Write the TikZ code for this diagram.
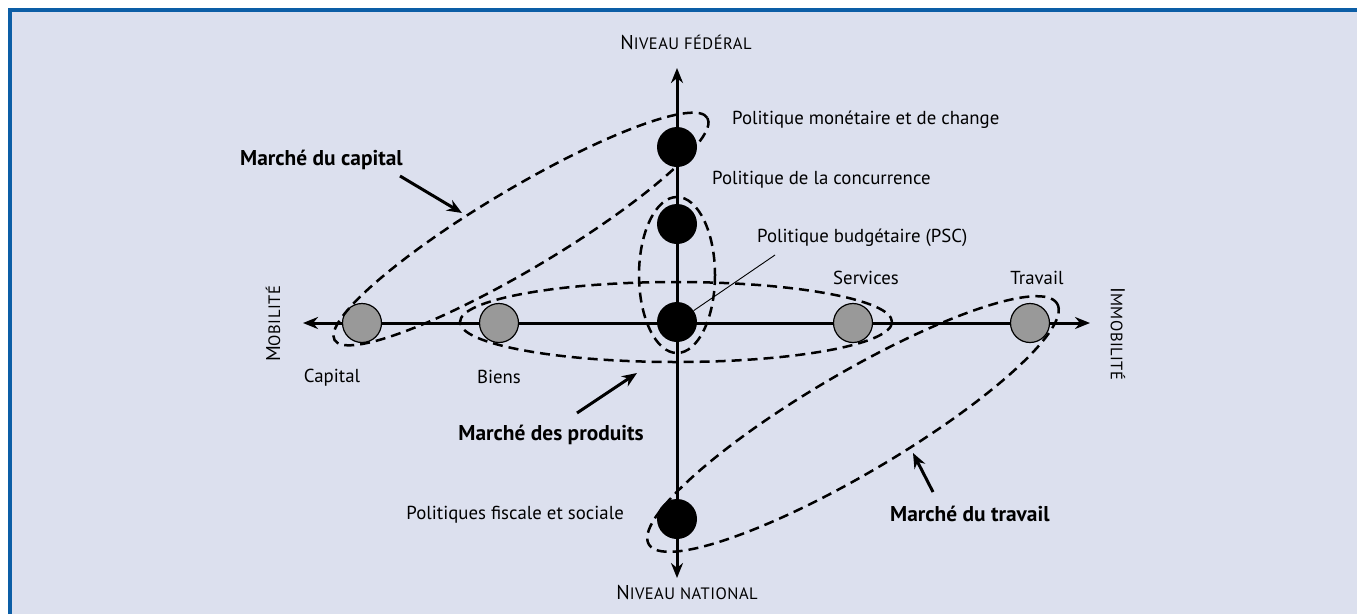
\documentclass[tikz,border=0pt]{standalone}
\usepackage{fontspec}
\setmainfont{PT Sans}
\usetikzlibrary{arrows.meta}
\definecolor{bg}{RGB}{220,224,238}
\definecolor{frameblue}{RGB}{12,94,166}
\definecolor{dotgray}{RGB}{153,153,153}
\newcommand{\mysc}[1]{{\fontsize{16.5}{18}\selectfont\addfontfeature{LetterSpace=3}#1}}
\begin{document}
\begin{tikzpicture}[x=1pt,y=-1pt,
  lbl/.style={font=\fontsize{18.8}{21}\selectfont, inner sep=0pt},
  axlbl/.style={font=\fontsize{20}{22}\selectfont, inner sep=0pt},
  mkt/.style={font=\bfseries\fontsize{21.4}{24}\selectfont, inner sep=0pt},
  axisline/.style={line width=3pt, {Stealth[length=15pt,width=12pt]}-{Stealth[length=15pt,width=12pt]}},
  ptr/.style={line width=3pt, -{Stealth[length=15pt,width=12pt]}},
  zone/.style={dash pattern=on 10pt off 6pt, line width=2.5pt},
  bdot/.style={circle, fill=black, minimum size=40pt, inner sep=0pt},
  gdot/.style={circle, fill=dotgray, draw=black, line width=1.2pt, minimum size=39pt, inner sep=0pt},
]
\useasboundingbox (0,0) rectangle (1357,614);
\fill[bg] (9,9) rectangle (1357,614);
\draw[frameblue, line width=3.5pt] (9.75,614) -- (9.75,9.75) -- (1357,9.75);

% axes
\coordinate (top) at (677,68);
\coordinate (bot) at (677,578);
\coordinate (lft) at (303,323);
\coordinate (rgt) at (1090,323);
\draw[axisline] (bot) -- (top);
\draw[axisline] (lft) -- (rgt);

% dots
\node[bdot] (d1) at (677,147) {};
\node[bdot] (d2) at (677,224) {};
\node[bdot] (d3) at (677,322) {};
\node[bdot] (d4) at (677,519) {};
\node[gdot] (cap) at (362,323) {};
\node[gdot] (bie) at (499,323) {};
\node[gdot] (ser) at (853,323) {};
\node[gdot] (tra) at (1030,323) {};

% zones
\draw[zone, rotate around={30.8:(521,229)}] (521,229) ellipse [x radius=217, y radius=40];
\draw[zone] (676,322) ellipse [x radius=216, y radius=40];
\draw[zone] (677,275) ellipse [x radius=38, y radius=78];
\draw[zone, rotate around={30.5:(853,424)}] (853,424) ellipse [x radius=237, y radius=50];

% axis labels
\node[axlbl] (nf) at (686,42) {N\mysc{IVEAU FÉDÉRAL}};
\node[axlbl] (nn) at (687,592) {N\mysc{IVEAU NATIONAL}};
\node[axlbl, rotate=90] (mob) at (273,324) {M\mysc{OBILITÉ}};
\node[axlbl, rotate=-90] (imm) at (1118,334) {I\mysc{MMOBILITÉ}};

% item labels
\node[lbl] (lcap) at (332,378) {Capital};
\node[lbl] (lbie) at (499,377) {Biens};
\node[lbl] (lser) at (866,278) {Services};
\node[lbl] (ltra) at (1037,278) {Travail};
\node[lbl, anchor=west] (pm) at (732,120) {Politique monétaire et de change};
\node[lbl, anchor=west] (pc) at (712,180) {Politique de la concurrence};
\node[lbl, anchor=west] (pb) at (757,238) {Politique budgétaire (PSC)};
\node[lbl, anchor=east] (pf) at (624,515) {Politiques fiscale et sociale};
\coordinate (pbs) at (775,255);
\draw[line width=0.9pt] (pbs) -- (d3);

% market labels
\node[mkt, anchor=west] (mc) at (240,160) {Marché du capital};
\node[mkt] (mp) at (551,435) {Marché des produits};
\node[mkt, anchor=west] (mt) at (890,514) {Marché du travail};
\coordinate (mcS) at (400,176);
\coordinate (mcT) at (462,213);
\coordinate (mpS) at (577,413);
\coordinate (mpT) at (637,373);
\coordinate (mtS) at (933,492);
\coordinate (mtT) at (913,453);
\draw[ptr] (mcS) -- (mcT);
\draw[ptr] (mpS) -- (mpT);
\draw[ptr] (mtS) -- (mtT);
\end{tikzpicture}
\end{document}
